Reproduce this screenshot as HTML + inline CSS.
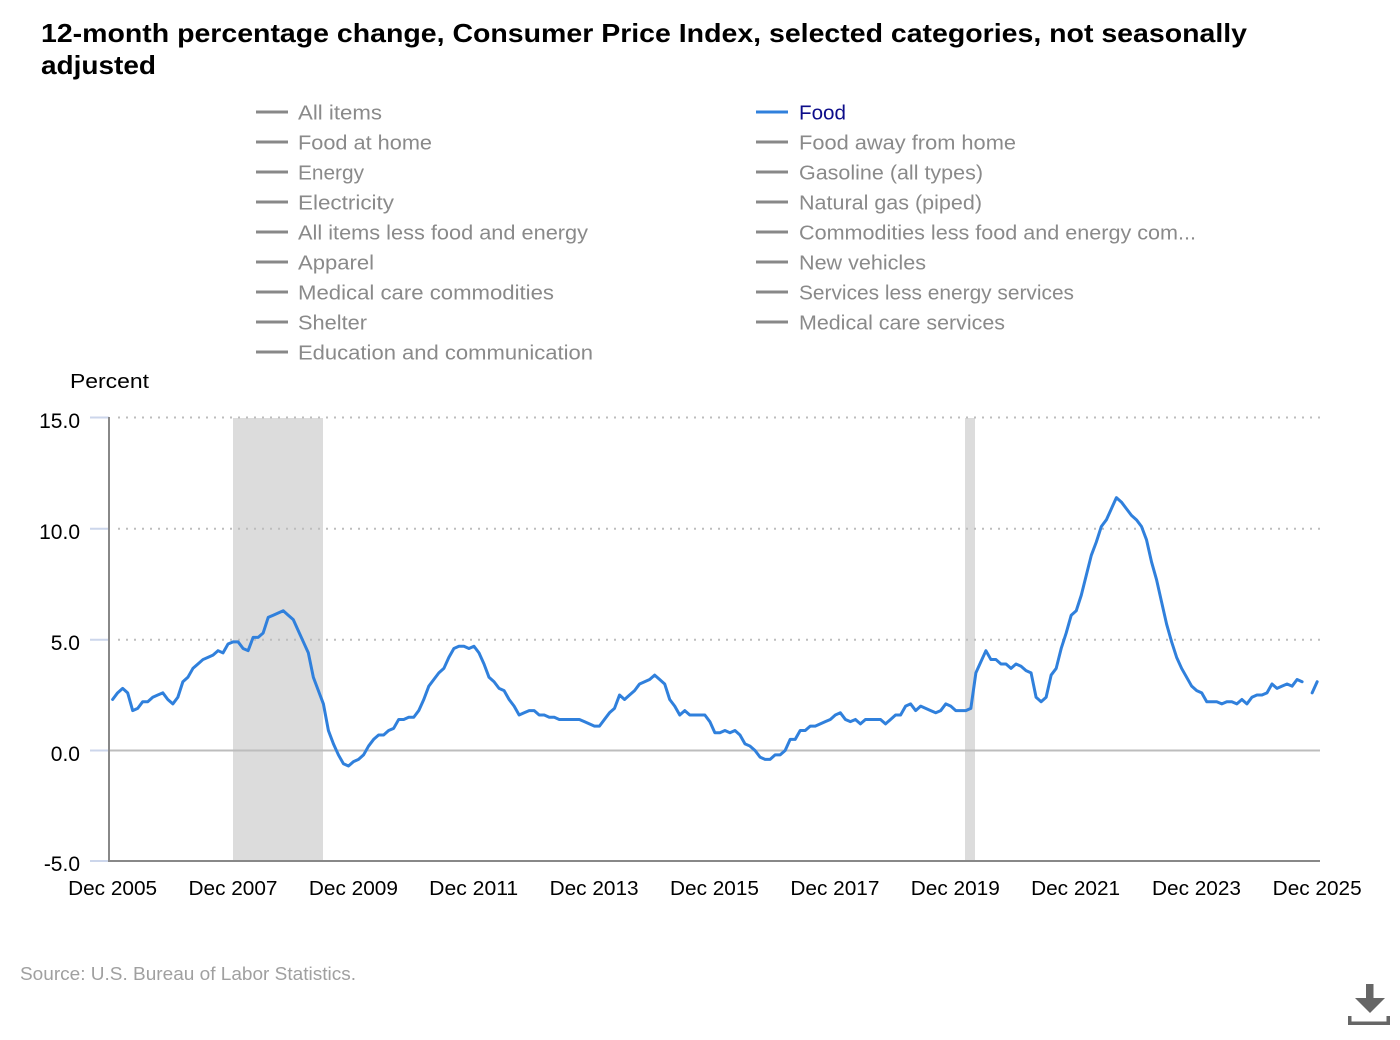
<!DOCTYPE html>
<html>
<head>
<meta charset="utf-8">
<style>
  html, body { margin: 0; padding: 0; background: #ffffff; }
  svg { display: block; }
  text { font-family: "Liberation Sans", sans-serif; }
</style>
</head>
<body>
<svg width="1400" height="1040" viewBox="0 0 1400 1040" xmlns="http://www.w3.org/2000/svg">
  <rect x="0" y="0" width="1400" height="1040" fill="#ffffff"/>

  <!-- Title -->
  <text x="41" y="42" font-size="26" font-weight="bold" fill="#000" textLength="1206" lengthAdjust="spacingAndGlyphs">12-month percentage change, Consumer Price Index, selected categories, not seasonally</text>
  <text x="41" y="74" font-size="26" font-weight="bold" fill="#000" textLength="115" lengthAdjust="spacingAndGlyphs">adjusted</text>

  <!-- Legend left column -->
  <g stroke="#888" stroke-width="3">
    <line x1="256" y1="112" x2="288" y2="112"/>
    <line x1="256" y1="142" x2="288" y2="142"/>
    <line x1="256" y1="172" x2="288" y2="172"/>
    <line x1="256" y1="202" x2="288" y2="202"/>
    <line x1="256" y1="232" x2="288" y2="232"/>
    <line x1="256" y1="262" x2="288" y2="262"/>
    <line x1="256" y1="292" x2="288" y2="292"/>
    <line x1="256" y1="322" x2="288" y2="322"/>
    <line x1="256" y1="352" x2="288" y2="352"/>
    <line x1="756" y1="142" x2="788" y2="142"/>
    <line x1="756" y1="172" x2="788" y2="172"/>
    <line x1="756" y1="202" x2="788" y2="202"/>
    <line x1="756" y1="232" x2="788" y2="232"/>
    <line x1="756" y1="262" x2="788" y2="262"/>
    <line x1="756" y1="292" x2="788" y2="292"/>
    <line x1="756" y1="322" x2="788" y2="322"/>
  </g>
  <line x1="756" y1="112" x2="788" y2="112" stroke="#3080dc" stroke-width="3"/>

  <g font-size="20" fill="#8a8a8a">
    <text x="298" y="119.5" textLength="84" lengthAdjust="spacingAndGlyphs">All items</text>
    <text x="298" y="149.5" textLength="134" lengthAdjust="spacingAndGlyphs">Food at home</text>
    <text x="298" y="179.5" textLength="66" lengthAdjust="spacingAndGlyphs">Energy</text>
    <text x="298" y="209.5" textLength="96" lengthAdjust="spacingAndGlyphs">Electricity</text>
    <text x="298" y="239.5" textLength="290" lengthAdjust="spacingAndGlyphs">All items less food and energy</text>
    <text x="298" y="269.5" textLength="76" lengthAdjust="spacingAndGlyphs">Apparel</text>
    <text x="298" y="299.5" textLength="256" lengthAdjust="spacingAndGlyphs">Medical care commodities</text>
    <text x="298" y="329.5" textLength="69" lengthAdjust="spacingAndGlyphs">Shelter</text>
    <text x="298" y="359.5" textLength="295" lengthAdjust="spacingAndGlyphs">Education and communication</text>

    <text x="799" y="149.5" textLength="217" lengthAdjust="spacingAndGlyphs">Food away from home</text>
    <text x="799" y="179.5" textLength="184" lengthAdjust="spacingAndGlyphs">Gasoline (all types)</text>
    <text x="799" y="209.5" textLength="183" lengthAdjust="spacingAndGlyphs">Natural gas (piped)</text>
    <text x="799" y="239.5" textLength="397" lengthAdjust="spacingAndGlyphs">Commodities less food and energy com...</text>
    <text x="799" y="269.5" textLength="127" lengthAdjust="spacingAndGlyphs">New vehicles</text>
    <text x="799" y="299.5" textLength="275" lengthAdjust="spacingAndGlyphs">Services less energy services</text>
    <text x="799" y="329.5" textLength="206" lengthAdjust="spacingAndGlyphs">Medical care services</text>
  </g>
  <text x="799" y="119.5" font-size="20" fill="#0d0d8a" textLength="47" lengthAdjust="spacingAndGlyphs">Food</text>

  <!-- Y axis title -->
  <text x="70" y="388" font-size="20" fill="#000" textLength="79" lengthAdjust="spacingAndGlyphs">Percent</text>

  <!-- Recession shading -->
  <rect x="233" y="418" width="90" height="443" fill="#dcdcdc"/>
  <rect x="965" y="418" width="10" height="443" fill="#dcdcdc"/>

  <!-- Grid lines -->
  <g stroke="#bdbdbd" stroke-width="2" stroke-dasharray="2,6">
    <line x1="118" y1="417.5" x2="1320" y2="417.5"/>
    <line x1="118" y1="528.7" x2="1320" y2="528.7"/>
    <line x1="118" y1="639.7" x2="1320" y2="639.7"/>
  </g>
  <line x1="109" y1="750.5" x2="1320" y2="750.5" stroke="#bdbdbd" stroke-width="2"/>

  <!-- Y ticks -->
  <g stroke="#ccd6eb" stroke-width="2">
    <line x1="90" y1="417.5" x2="109" y2="417.5"/>
    <line x1="90" y1="528.7" x2="109" y2="528.7"/>
    <line x1="90" y1="639.7" x2="109" y2="639.7"/>
    <line x1="90" y1="750.5" x2="109" y2="750.5"/>
    <line x1="90" y1="861" x2="109" y2="861"/>
  </g>

  <!-- Axes -->
  <line x1="109" y1="417" x2="109" y2="862" stroke="#888" stroke-width="2"/>
  <line x1="108" y1="861" x2="1320" y2="861" stroke="#888" stroke-width="2"/>

  <!-- Y labels -->
  <g font-size="21" fill="#000" text-anchor="end">
    <text x="80" y="428">15.0</text>
    <text x="80" y="539">10.0</text>
    <text x="80" y="650">5.0</text>
    <text x="80" y="761">0.0</text>
    <text x="80" y="871">-5.0</text>
  </g>

  <!-- X labels -->
  <g font-size="20" fill="#000" text-anchor="middle">
    <text x="112.6" y="895" textLength="89" lengthAdjust="spacingAndGlyphs">Dec 2005</text>
    <text x="233" y="895" textLength="89" lengthAdjust="spacingAndGlyphs">Dec 2007</text>
    <text x="353.4" y="895" textLength="89" lengthAdjust="spacingAndGlyphs">Dec 2009</text>
    <text x="473.7" y="895" textLength="89" lengthAdjust="spacingAndGlyphs">Dec 2011</text>
    <text x="594.1" y="895" textLength="89" lengthAdjust="spacingAndGlyphs">Dec 2013</text>
    <text x="714.5" y="895" textLength="89" lengthAdjust="spacingAndGlyphs">Dec 2015</text>
    <text x="834.9" y="895" textLength="89" lengthAdjust="spacingAndGlyphs">Dec 2017</text>
    <text x="955.3" y="895" textLength="89" lengthAdjust="spacingAndGlyphs">Dec 2019</text>
    <text x="1075.6" y="895" textLength="89" lengthAdjust="spacingAndGlyphs">Dec 2021</text>
    <text x="1196.5" y="895" textLength="89" lengthAdjust="spacingAndGlyphs">Dec 2023</text>
    <text x="1317.2" y="895" textLength="89" lengthAdjust="spacingAndGlyphs">Dec 2025</text>
  </g>

  <!-- Data series: Food -->
  <g transform="translate(112.6 750.5) scale(5.019 -22.18)">
    <polyline fill="none" stroke="#3080dc" stroke-width="3" vector-effect="non-scaling-stroke" stroke-linejoin="round" stroke-linecap="round"
      points="0,2.3 1,2.6 2,2.8 3,2.6 4,1.8 5,1.9 6,2.2 7,2.2 8,2.4 9,2.5 10,2.6 11,2.3 12,2.1 13,2.4 14,3.1 15,3.3 16,3.7 17,3.9 18,4.1 19,4.2 20,4.3 21,4.5 22,4.4 23,4.8 24,4.9 25,4.9 26,4.6 27,4.5 28,5.1 29,5.1 30,5.3 31,6.0 32,6.1 33,6.2 34,6.3 35,6.1 36,5.9 37,5.4 38,4.9 39,4.4 40,3.3 41,2.7 42,2.1 43,0.9 44,0.3 45,-0.2 46,-0.6 47,-0.7 48,-0.5 49,-0.4 50,-0.2 51,0.2 52,0.5 53,0.7 54,0.7 55,0.9 56,1.0 57,1.4 58,1.4 59,1.5 60,1.5 61,1.8 62,2.3 63,2.9 64,3.2 65,3.5 66,3.7 67,4.2 68,4.6 69,4.7 70,4.7 71,4.6 72,4.7 73,4.4 74,3.9 75,3.3 76,3.1 77,2.8 78,2.7 79,2.3 80,2.0 81,1.6 82,1.7 83,1.8 84,1.8 85,1.6 86,1.6 87,1.5 88,1.5 89,1.4 90,1.4 91,1.4 92,1.4 93,1.4 94,1.3 95,1.2 96,1.1 97,1.1 98,1.4 99,1.7 100,1.9 101,2.5 102,2.3 103,2.5 104,2.7 105,3.0 106,3.1 107,3.2 108,3.4 109,3.2 110,3.0 111,2.3 112,2.0 113,1.6 114,1.8 115,1.6 116,1.6 117,1.6 118,1.6 119,1.3 120,0.8 121,0.8 122,0.9 123,0.8 124,0.9 125,0.7 126,0.3 127,0.2 128,0.0 129,-0.3 130,-0.4 131,-0.4 132,-0.2 133,-0.2 134,0.0 135,0.5 136,0.5 137,0.9 138,0.9 139,1.1 140,1.1 141,1.2 142,1.3 143,1.4 144,1.6 145,1.7 146,1.4 147,1.3 148,1.4 149,1.2 150,1.4 151,1.4 152,1.4 153,1.4 154,1.2 155,1.4 156,1.6 157,1.6 158,2.0 159,2.1 160,1.8 161,2.0 162,1.9 163,1.8 164,1.7 165,1.8 166,2.1 167,2.0 168,1.8 169,1.8 170,1.8 171,1.9 172,3.5 173,4.0 174,4.5 175,4.1 176,4.1 177,3.9 178,3.9 179,3.7 180,3.9 181,3.8 182,3.6 183,3.5 184,2.4 185,2.2 186,2.4 187,3.4 188,3.7 189,4.6 190,5.3 191,6.1 192,6.3 193,7.0 194,7.9 195,8.8 196,9.4 197,10.1 198,10.4 199,10.9 200,11.4 201,11.2 202,10.9 203,10.6 204,10.4 205,10.1 206,9.5 207,8.5 208,7.7 209,6.7 210,5.7 211,4.9 212,4.2 213,3.7 214,3.3 215,2.9 216,2.7 217,2.6 218,2.2 219,2.2 220,2.2 221,2.1 222,2.2 223,2.2 224,2.1 225,2.3 226,2.1 227,2.4 228,2.5 229,2.5 230,2.6 231,3.0 232,2.8 233,2.9 234,3.0 235,2.9 236,3.2 237,3.1"/>
    <polyline fill="none" stroke="#3080dc" stroke-width="3" vector-effect="non-scaling-stroke" stroke-linejoin="round" stroke-linecap="round"
      points="239,2.6 240,3.1"/>
  </g>

  <!-- Source -->
  <text x="20" y="980" font-size="18" fill="#a0a0a0" textLength="336" lengthAdjust="spacingAndGlyphs">Source: U.S. Bureau of Labor Statistics.</text>

  <!-- Download icon -->
  <g fill="#666">
    <rect x="1366" y="984" width="7.5" height="15"/>
    <polygon points="1355,998 1385,998 1370,1013"/>
    <rect x="1348" y="1016" width="3.5" height="9"/>
    <rect x="1386.5" y="1016" width="3.5" height="9"/>
    <rect x="1348" y="1021.5" width="42" height="3.5"/>
  </g>
</svg>
</body>
</html>
